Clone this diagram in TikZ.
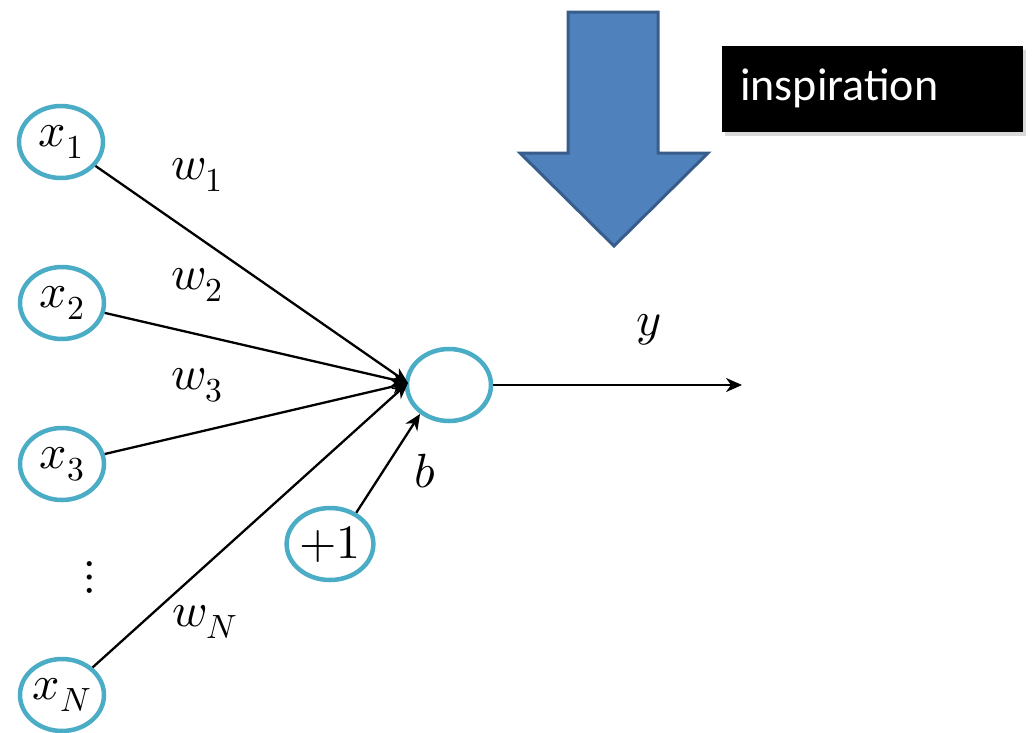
\documentclass[tikz,border=0pt]{standalone}
\usepackage{fontspec}
\usepackage{unicode-math}
\setmathfont{Latin Modern Math}
\newfontfamily\boxfont{Carlito}
\usetikzlibrary{shapes.geometric,arrows.meta,shadows}
\definecolor{ringc}{HTML}{4BACC6}
\definecolor{arrowfill}{HTML}{4F81BD}
\definecolor{arrowline}{HTML}{385D8A}
\begin{document}
\begin{tikzpicture}[x=1pt,y=-1pt,
  unit/.style={ellipse,draw=ringc,line width=4.5pt,minimum width=84pt,minimum height=72pt,inner sep=0pt,font=\fontsize{48}{52}\selectfont},
  lbl/.style={inner sep=0pt,font=\fontsize{48}{52}\selectfont},
  conn/.style={line width=2.3pt,-{Stealth[length=16pt,width=14pt,inset=5pt]}}
]
\useasboundingbox (0,0) rectangle (1034,732);
% blue arrow
\draw[fill=arrowfill,draw=arrowline,line width=3pt,line join=miter]
  (568,12) -- (658,12) -- (658,153) -- (708,153) -- (614,246) -- (520,153) -- (568,153) -- cycle;
% inspiration box
\node[fill=black,minimum width=301pt,minimum height=86pt,inner sep=0pt,anchor=north west,
  drop shadow={opacity=0.3,shadow xshift=3pt,shadow yshift=-4pt}] (box) at (722,46) {};
\node[anchor=base west,text=white,inner sep=0pt,font=\boxfont\fontsize{46}{50}\selectfont] (insp) at (740,100) {inspiration};
% nodes
\node[unit] (x1) at (61,142) {$x_1$\hspace{4pt}};
\node[unit] (x2) at (62,303) {$x_2$\hspace{4pt}};
\node[unit] (x3) at (62,464) {$x_3$\hspace{4pt}};
\node[unit] (xN) at (62,695) {$x_N$\hspace{4pt}};
\node[unit] (p1) at (330,544) {$+1$};
\node[unit] (out) at (449,385) {};
\coordinate (yend) at (742,385);
\coordinate (tgt) at (408,383);
% labels
\node[lbl] (w1) at (197,175) {$w_1$};
\node[lbl] (w2) at (197,285) {$w_2$};
\node[lbl] (w3) at (197,385) {$w_3$};
\node[lbl] (wN) at (205,622) {$w_N$};
\node[lbl] (bl) at (425,471) {$b$};
\node[lbl] (yl) at (649,330) {$y$};
\node[lbl] (dots) at (90,577) {$\vdots$};
% connectors
\draw[conn] (x1) -- (tgt);
\draw[conn] (x2) -- (tgt);
\draw[conn] (x3) -- (tgt);
\draw[conn] (xN) -- (tgt);
\draw[conn] (p1.50) -- (out.225);
\draw[conn] (out.east) -- (yend);
\end{tikzpicture}
\end{document}
